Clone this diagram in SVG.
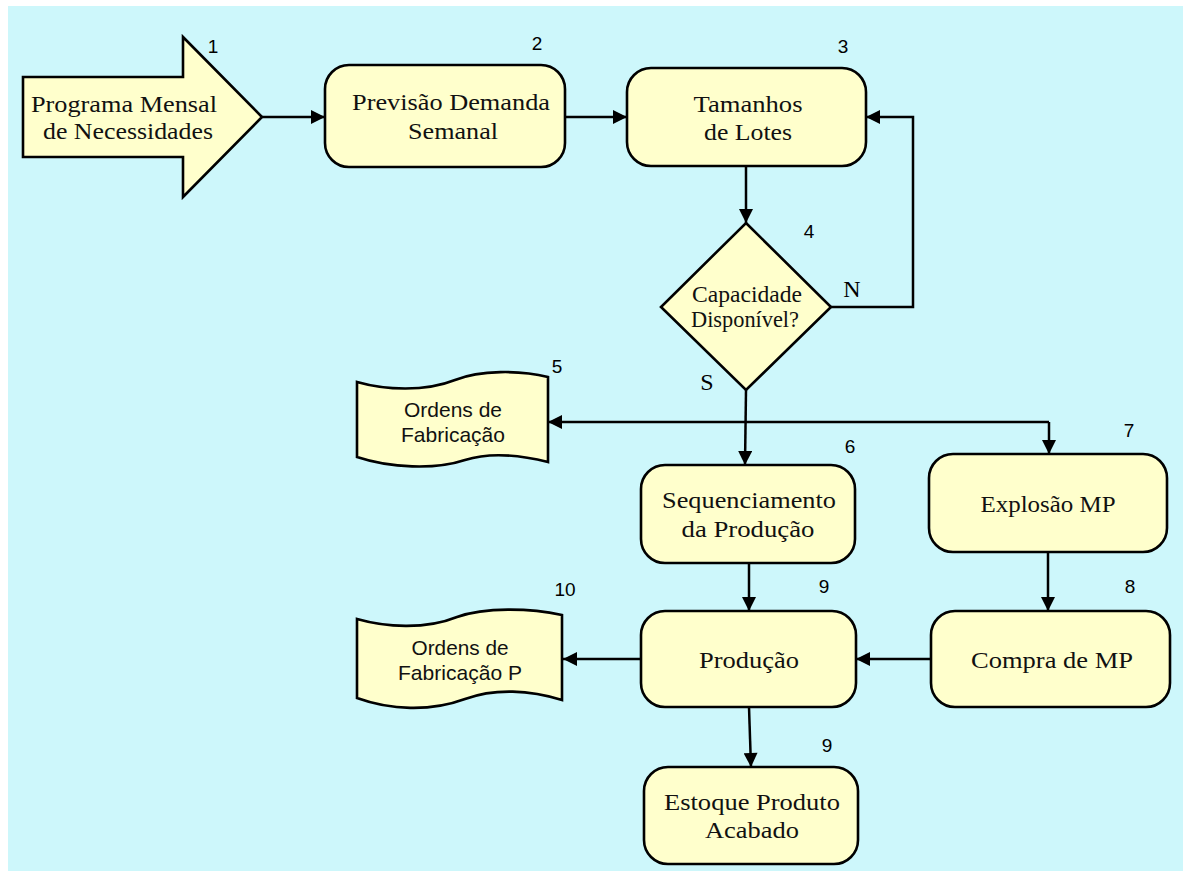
<svg xmlns="http://www.w3.org/2000/svg" width="1187" height="874" viewBox="0 0 1187 874">
  <style>
    .node { fill: #FFFFCC; stroke: #000; stroke-width: 2.6; }
    .lbl { font-family: "Liberation Serif", "Times New Roman", serif; font-size: 23px; fill: #111; text-anchor: middle; }
    .doc { font-family: "Liberation Sans", Arial, sans-serif; font-size: 21px; fill: #111; text-anchor: middle; }
    .num { font-family: "Liberation Sans", Arial, sans-serif; font-size: 19px; fill: #000; text-anchor: middle; }
    .yn { font-family: "Liberation Serif", "Times New Roman", serif; font-size: 24px; fill: #000; text-anchor: middle; }
    .wire { fill: none; stroke: #000; stroke-width: 2.5; }
  </style>
  <defs>
    <marker id="arrow" markerUnits="userSpaceOnUse" viewBox="0 0 10 10" refX="10" refY="5" markerWidth="16" markerHeight="14" orient="auto">
      <path d="M0,0 L10,5 L0,10 Z" fill="#000"/>
    </marker>
  </defs>

  <!-- page background -->
  <rect x="0" y="0" width="1187" height="874" fill="#FFFFFF"/>
  <rect x="8" y="6" width="1175" height="865" fill="#CDF7FB"/>

  <!-- connectors -->
  <g id="connectors" class="wire">
    <path d="M262,117 H325" marker-end="url(#arrow)"/>
    <path d="M565,117 H627" marker-end="url(#arrow)"/>
    <path d="M746,166 V223" marker-end="url(#arrow)"/>
    <path d="M831,307 H913 V117 H866" marker-end="url(#arrow)"/>
    <path d="M746,390 L745,465" marker-end="url(#arrow)"/>
    <path d="M1049,422 H548" marker-end="url(#arrow)"/>
    <path d="M1049,422 V454" marker-end="url(#arrow)"/>
    <path d="M749,563 V611" marker-end="url(#arrow)"/>
    <path d="M1048,552 V611" marker-end="url(#arrow)"/>
    <path d="M931,659 H856" marker-end="url(#arrow)"/>
    <path d="M641,659 H563" marker-end="url(#arrow)"/>
    <path d="M749,707 L751,767" marker-end="url(#arrow)"/>
  </g>

  <!-- 1: monthly requirements (block arrow) -->
  <g id="n1">
    <polygon class="node" points="23,77 183,77 183,37 262,117 183,197 183,157 23,157"/>
    <text class="lbl" x="124" y="112" font-size="25" textLength="186" lengthAdjust="spacingAndGlyphs">Programa Mensal</text>
    <text class="lbl" x="128" y="139" font-size="25" textLength="170" lengthAdjust="spacingAndGlyphs">de Necessidades</text>
    <text class="num" x="213" y="53">1</text>
  </g>

  <!-- 2 -->
  <g id="n2">
    <rect class="node" x="325" y="65" width="240" height="102" rx="24"/>
    <text class="lbl" x="451" y="110" textLength="198" lengthAdjust="spacingAndGlyphs">Previsão Demanda</text>
    <text class="lbl" x="453" y="139" textLength="90" lengthAdjust="spacingAndGlyphs">Semanal</text>
    <text class="num" x="537" y="50">2</text>
  </g>

  <!-- 3 -->
  <g id="n3">
    <rect class="node" x="627" y="68" width="239" height="98" rx="24"/>
    <text class="lbl" x="748" y="112" textLength="109" lengthAdjust="spacingAndGlyphs">Tamanhos</text>
    <text class="lbl" x="748" y="140" textLength="88" lengthAdjust="spacingAndGlyphs">de Lotes</text>
    <text class="num" x="843" y="53">3</text>
  </g>

  <!-- 4: decision -->
  <g id="n4">
    <polygon class="node" points="746,223 831,307 746,390 661,307"/>
    <text class="lbl" x="747" y="302" font-size="21" textLength="110" lengthAdjust="spacingAndGlyphs">Capacidade</text>
    <text class="lbl" x="745" y="327" font-size="21" textLength="108" lengthAdjust="spacingAndGlyphs">Disponível?</text>
    <text class="num" x="809" y="238">4</text>
    <text class="yn" x="852" y="297">N</text>
    <text class="yn" x="707" y="390">S</text>
  </g>

  <!-- 5: document -->
  <g id="n5">
    <path class="node" d="M357,382 C385,390 425,392 455,380 C480,370 520,370 548,377 L548,462 C520,455 490,452 465,460 C435,470 390,468 357,457 Z"/>
    <text class="doc" x="453" y="417" textLength="98" lengthAdjust="spacingAndGlyphs">Ordens de</text>
    <text class="doc" x="453" y="442" textLength="104" lengthAdjust="spacingAndGlyphs">Fabricação</text>
    <text class="num" x="557" y="373">5</text>
  </g>

  <!-- 6 -->
  <g id="n6">
    <rect class="node" x="641" y="465" width="214" height="98" rx="24"/>
    <text class="lbl" x="749" y="508" textLength="174" lengthAdjust="spacingAndGlyphs">Sequenciamento</text>
    <text class="lbl" x="748" y="537" textLength="133" lengthAdjust="spacingAndGlyphs">da Produção</text>
    <text class="num" x="850" y="453">6</text>
  </g>

  <!-- 7 -->
  <g id="n7">
    <rect class="node" x="929" y="454" width="238" height="98" rx="24"/>
    <text class="lbl" x="1048" y="512" textLength="135" lengthAdjust="spacingAndGlyphs">Explosão MP</text>
    <text class="num" x="1129" y="437">7</text>
  </g>

  <!-- 9: production -->
  <g id="n9">
    <rect class="node" x="641" y="611" width="215" height="96" rx="24"/>
    <text class="lbl" x="749" y="668" textLength="100" lengthAdjust="spacingAndGlyphs">Produção</text>
    <text class="num" x="824" y="593">9</text>
  </g>

  <!-- 8 -->
  <g id="n8">
    <rect class="node" x="931" y="611" width="239" height="96" rx="24"/>
    <text class="lbl" x="1052" y="668" textLength="162" lengthAdjust="spacingAndGlyphs">Compra de MP</text>
    <text class="num" x="1130" y="593">8</text>
  </g>

  <!-- 10: document -->
  <g id="n10">
    <path class="node" d="M357,619 C385,627 425,630 457,617 C485,607 530,608 562,615 L562,700 C530,690 495,688 465,699 C430,712 390,710 357,698 Z"/>
    <text class="doc" x="460" y="655" textLength="97" lengthAdjust="spacingAndGlyphs">Ordens de</text>
    <text class="doc" x="460" y="680" textLength="124" lengthAdjust="spacingAndGlyphs">Fabricação P</text>
    <text class="num" x="565" y="596">10</text>
  </g>

  <!-- 9: finished goods stock -->
  <g id="n9b">
    <rect class="node" x="644" y="767" width="214" height="97" rx="24"/>
    <text class="lbl" x="752" y="810" textLength="176" lengthAdjust="spacingAndGlyphs">Estoque Produto</text>
    <text class="lbl" x="752" y="838" textLength="94" lengthAdjust="spacingAndGlyphs">Acabado</text>
    <text class="num" x="827" y="752">9</text>
  </g>
</svg>
